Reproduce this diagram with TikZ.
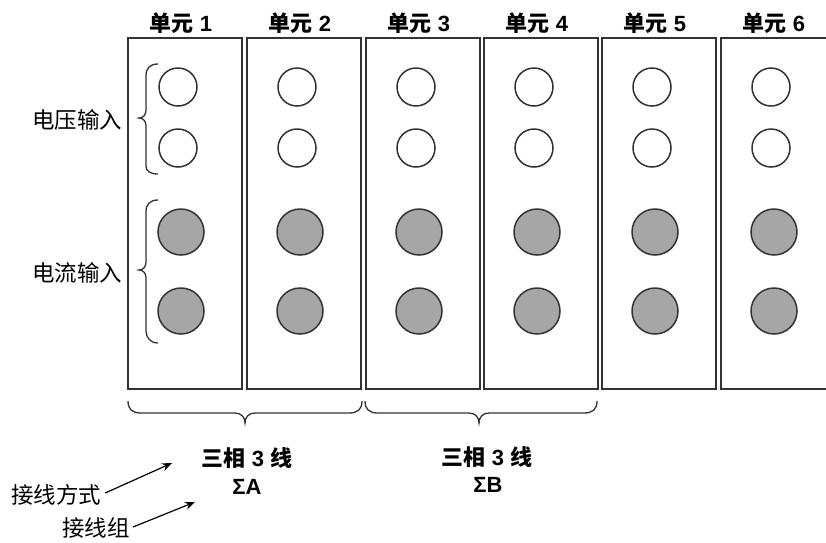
\documentclass[tikz,border=0pt]{standalone}
\usepackage{fontspec}
\setmainfont{Liberation Sans}
\newfontfamily\cjk{Noto Sans CJK SC}
\usetikzlibrary{arrows.meta}
\definecolor{linec}{HTML}{333333}
\definecolor{fillg}{HTML}{A6A6A6}
\tikzset{
  unitbox/.style={draw=linec, line width=1.7pt},
  vin/.style={circle, draw=linec, line width=1.5pt, fill=white, minimum size=38pt, inner sep=0pt},
  iin/.style={circle, draw=linec, line width=1.5pt, fill=fillg, minimum size=46pt, inner sep=0pt},
  hdr/.style={font=\fontsize{22}{26}\selectfont\bfseries, inner sep=0pt},
  lbl/.style={font=\fontsize{22.5}{26}\selectfont\cjk, inner sep=0pt},
  grp/.style={font=\fontsize{22}{26}\selectfont\bfseries, inner sep=0pt, align=center},
  brc/.style={draw=linec, line width=1.3pt},
  arr/.style={draw=black, line width=1.2pt, -{Stealth[length=10pt,width=8pt]}},
}
\begin{document}
\begin{tikzpicture}[x=1pt,y=-1pt]
\useasboundingbox (0,0) rectangle (826,542);
\clip (0,0) rectangle (826,542);
\fill[white] (0,0) rectangle (826,542);
% unit boxes
\foreach \i/\l in {1/128,2/247,3/366,4/484,5/602,6/721}{
  \draw[unitbox] (\l,38) rectangle ++(114,351);
  \node[hdr] (h\i) at (\l+53,23) {{\cjk\bfseries 单元} \i};
  \node[vin] (v\i a) at (\l+50,87) {};
  \node[vin] (v\i b) at (\l+50,148) {};
  \node[iin] (c\i a) at (\l+53,232) {};
  \node[iin] (c\i b) at (\l+53,311) {};
}
% side labels and braces
\node[lbl] (vlab) at (77,120) {电压输入};
\node[lbl] (clab) at (77,273) {电流输入};
\draw[brc] (158,64) .. controls (150,64) and (146,68) .. (146,76) -- (146,110)
  .. controls (146,115) and (143,118) .. (139,118)
  .. controls (143,118) and (146,121) .. (146,126) -- (146,166)
  .. controls (146,171) and (150,174) .. (158,174);
\draw[brc] (158,200) .. controls (150,200) and (146,204) .. (146,212) -- (146,262)
  .. controls (146,267) and (143,270) .. (139,270)
  .. controls (143,270) and (146,273) .. (146,278) -- (146,331)
  .. controls (146,337) and (150,343) .. (158,343);
% bottom braces
\draw[brc] (128,401) .. controls (128,409) and (132,413) .. (141,413) -- (235,413)
  .. controls (241,413) and (245,417) .. (245,423)
  .. controls (245,417) and (249,413) .. (255,413) -- (349,413)
  .. controls (358,413) and (362,409) .. (362,401);
\draw[brc] (365,401) .. controls (365,409) and (369,413) .. (378,413) -- (469,413)
  .. controls (475,413) and (479,417) .. (479,423)
  .. controls (479,417) and (483,413) .. (489,413) -- (584,413)
  .. controls (593,413) and (597,409) .. (597,401);
% group texts
\node[grp] (ga) at (247,458) {{\cjk\bfseries 三相} 3 {\cjk\bfseries 线}};
\node[grp] (gsa) at (247,487) {ΣA};
\node[grp] (gb) at (487,457) {{\cjk\bfseries 三相} 3 {\cjk\bfseries 线}};
\node[grp] (gsb) at (488,485) {ΣB};
% legend
\node[lbl] (mode) at (56,495) {接线方式};
\node[lbl] (grpl) at (96,528) {接线组};
\coordinate (am) at (172,463);
\coordinate (ag) at (195,502);
\draw[arr] (mode.east) ++(4,-2) -- (am);
\draw[arr] (grpl.east) ++(3,-1) -- (ag);
\end{tikzpicture}
\end{document}
